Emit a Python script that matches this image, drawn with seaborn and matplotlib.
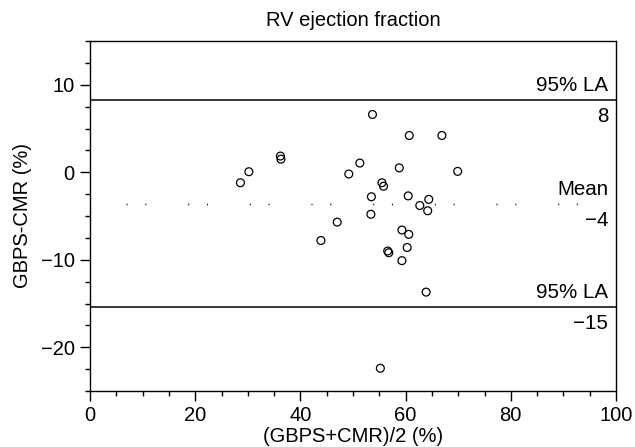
import numpy as np
import pandas as pd
import matplotlib
matplotlib.use("Agg")
import matplotlib.pyplot as plt
import matplotlib.transforms as mtransforms
from matplotlib.ticker import MultipleLocator
import seaborn as sns

# ---- data ----
avg_pct = [28.6, 30.2, 36.2, 36.3, 49.2, 51.3, 53.7, 60.7, 66.9, 58.8,
           69.9, 55.5, 55.8, 53.5, 60.5, 62.7, 64.4, 64.2, 53.4, 47.0,
           43.9, 59.3, 60.6, 56.6, 56.8, 60.3, 59.3, 63.9, 55.2]
diff_pct = [-1.2, 0.06, 1.85, 1.5, -0.2, 1.05, 6.6, 4.2, 4.2, 0.5,
            0.1, -1.2, -1.6, -2.8, -2.7, -3.8, -3.1, -4.4, -4.8, -5.7,
            -7.8, -6.6, -7.1, -9.0, -9.2, -8.6, -10.1, -13.7, -22.4]
mean_diff = -3.6
upper_la = 8.27
lower_la = -15.35
line_labels = ["95% LA", "8", "Mean", "\u22124", "95% LA", "\u221215"]
title = "RV ejection fraction"
xlabel = "(GBPS+CMR)/2 (%)"
ylabel = "GBPS-CMR (%)"

df = pd.DataFrame({"avg": avg_pct, "diff": diff_pct})

sns.set_style("ticks")
plt.rcParams["font.family"] = ["Liberation Sans", "DejaVu Sans"]
plt.rcParams["axes.linewidth"] = 1.0

fig = plt.figure(figsize=(6.35, 4.47), dpi=100)
ax = fig.add_axes([90/635, 1 - 391/447, (616-90)/635, (391-41)/447])

sns.scatterplot(data=df, x="avg", y="diff", ax=ax, marker="o", s=32,
                facecolor="none", edgecolor="black", linewidth=0.9, legend=False)

ax.axhline(upper_la, color="black", lw=1.1)
ax.axhline(lower_la, color="black", lw=1.1)
ax.axhline(mean_diff, color="black", lw=1.0,
           linestyle=(18.5, (0.8, 12.7, 0.8, 30.1)))

ax.set_xlim(0, 100)
ax.set_ylim(-25, 15)
ax.xaxis.set_major_locator(MultipleLocator(20))
ax.xaxis.set_minor_locator(MultipleLocator(5))
ax.yaxis.set_major_locator(MultipleLocator(10))
ax.yaxis.set_minor_locator(MultipleLocator(2.5))
ax.tick_params(axis="both", which="major", length=7, width=1.0,
               labelsize=14.5, pad=4, color="black", labelcolor="black")
ax.tick_params(axis="both", which="minor", length=3.8, width=1.0, color="black")
for s in ax.spines.values():
    s.set_color("black")
    s.set_linewidth(1.0)

ax.set_title(title, fontsize=14.5, pad=11, color="black")
ax.set_xlabel(xlabel, fontsize=14.5, labelpad=1.5, color="black")
ax.set_ylabel(ylabel, fontsize=14.5, labelpad=6, color="black")

trans = mtransforms.blended_transform_factory(ax.transAxes, ax.transData)
fs = 14.8
levels = [upper_la, upper_la, mean_diff, mean_diff, lower_la, lower_la]
for i, (lab, lev) in enumerate(zip(line_labels, levels)):
    above = (i % 2 == 0)
    ax.annotate(lab, xy=(1, lev), xycoords=trans,
                xytext=(-5.5, 3.5 if above else -5.0), textcoords="offset points",
                ha="right", va="bottom" if above else "top",
                fontsize=fs, color="black")

fig.savefig("out.png", dpi=100)
